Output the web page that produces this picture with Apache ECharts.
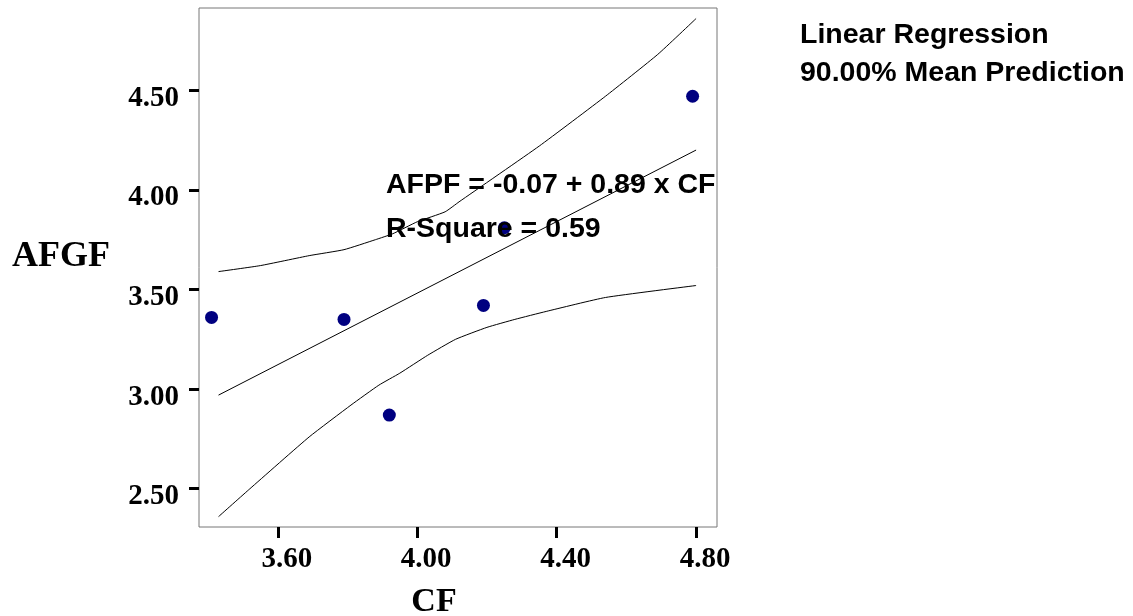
<!DOCTYPE html>
<html>
<head>
<meta charset="utf-8">
<script src="https://cdn.jsdelivr.net/npm/echarts@6/dist/echarts.min.js"></script>
<style>
  html, body { margin: 0; padding: 0; background: #fff; }
  #chart { width: 1133px; height: 616px; }
</style>
</head>
<body>
<div id="chart"></div>
<script>
// observed points (CF, AFGF)
var cfValues = [3.41, 3.79, 3.92, 4.19, 4.25, 4.79];
var afgfValues = [3.36, 3.35, 2.87, 3.42, 3.81, 4.47];

// fitted line, read at its two ends
var fitX = [3.43, 4.80];
var fitY = [2.97, 4.20];

// 90% mean prediction band
var upperX = [3.43, 3.55, 3.69, 3.79, 3.88, 3.93, 4.00, 4.08, 4.12, 4.35, 4.54, 4.69, 4.80];
var upperY = [3.59, 3.62, 3.67, 3.70, 3.75, 3.78, 3.84, 3.89, 3.94, 4.22, 4.47, 4.68, 4.86];
var lowerX = [3.43, 3.52, 3.69, 3.81, 3.89, 3.95, 4.03, 4.11, 4.20, 4.28, 4.37, 4.54, 4.80];
var lowerY = [2.36, 2.50, 2.76, 2.92, 3.02, 3.08, 3.17, 3.25, 3.31, 3.35, 3.39, 3.46, 3.52];

var xTicks = [3.60, 4.00, 4.40, 4.80];
var yTicks = [2.50, 3.00, 3.50, 4.00, 4.50];

function pairs(xs, ys) {
    var out = [];
    for (var i = 0; i < xs.length; i++) out.push([xs[i], ys[i]]);
    return out;
}

var chart = echarts.init(document.getElementById('chart'));

var sansBold = 'bold 28.5px "Liberation Sans", Arial, sans-serif';
var serif = '"Liberation Serif", "Times New Roman", serif';

var lineStyle = { color: '#000', width: 1 };

var option = {
    backgroundColor: '#fff',
    animation: false,
    grid: {
        left: 199, top: 8, right: 416, bottom: 89,
        containLabel: false,
        outerBoundsMode: 'none',
        show: true, borderColor: '#777', borderWidth: 1, backgroundColor: 'transparent'
    },
    xAxis: {
        type: 'value',
        min: 3.374, max: 4.860,
        name: 'CF',
        nameLocation: 'middle',
        nameGap: 58,
        nameTextStyle: { fontFamily: serif, fontWeight: 'bold', fontSize: 34, color: '#000', padding: [0, 48, 0, 0] },
        axisLine: { show: false },
        splitLine: { show: false },
        axisTick: { show: true, length: 11, customValues: xTicks, lineStyle: { color: '#000', width: 3 } },
        axisLabel: {
            customValues: xTicks,
            margin: 18,
            padding: [0, 0, 0, 18],
            color: '#000',
            fontFamily: serif, fontWeight: 'bold', fontSize: 29,
            formatter: function (v) { return v.toFixed(2); }
        }
    },
    yAxis: {
        type: 'value',
        min: 2.308, max: 4.913,
        name: 'AFGF',
        nameLocation: 'middle',
        nameGap: 89,
        nameRotate: 0,
        nameTextStyle: { fontFamily: serif, fontWeight: 'bold', fontSize: 36, color: '#000', verticalAlign: 'bottom', lineHeight: 22 },
        axisLine: { show: false },
        splitLine: { show: false },
        axisTick: { show: true, length: 10, customValues: yTicks, lineStyle: { color: '#000', width: 3 } },
        axisLabel: {
            customValues: yTicks,
            margin: 20,
            verticalAlign: 'top',
            lineHeight: 16,
            color: '#000',
            fontFamily: serif, fontWeight: 'bold', fontSize: 29,
            formatter: function (v) { return v.toFixed(2); }
        }
    },
    series: [
        {
            name: 'upper',
            type: 'line',
            data: pairs(upperX, upperY),
            symbol: 'none',
            smooth: 0.15,
            lineStyle: lineStyle,
            z: 2
        },
        {
            name: 'fit',
            type: 'line',
            data: pairs(fitX, fitY),
            symbol: 'none',
            lineStyle: lineStyle,
            z: 2
        },
        {
            name: 'lower',
            type: 'line',
            data: pairs(lowerX, lowerY),
            symbol: 'none',
            smooth: 0.15,
            lineStyle: lineStyle,
            z: 2
        },
        {
            name: 'AFGF',
            type: 'scatter',
            data: pairs(cfValues, afgfValues),
            symbol: 'circle',
            symbolSize: 13,
            itemStyle: { color: '#000080', opacity: 1 },
            z: 3
        }
    ],
    graphic: [
        { type: 'text', left: 386, top: 171, z: 100, style: { text: 'AFPF = -0.07 + 0.89 x CF', font: sansBold, fill: '#000' } },
        { type: 'text', left: 386, top: 215, z: 100, style: { text: 'R-Square = 0.59', font: sansBold, fill: '#000' } },
        { type: 'text', left: 800, top: 21, z: 100, style: { text: 'Linear Regression', font: sansBold, fill: '#000' } },
        { type: 'text', left: 800, top: 59, z: 100, style: { text: '90.00% Mean Prediction', font: sansBold, fill: '#000' } }
    ]
};

chart.setOption(option);
</script>
</body>
</html>
